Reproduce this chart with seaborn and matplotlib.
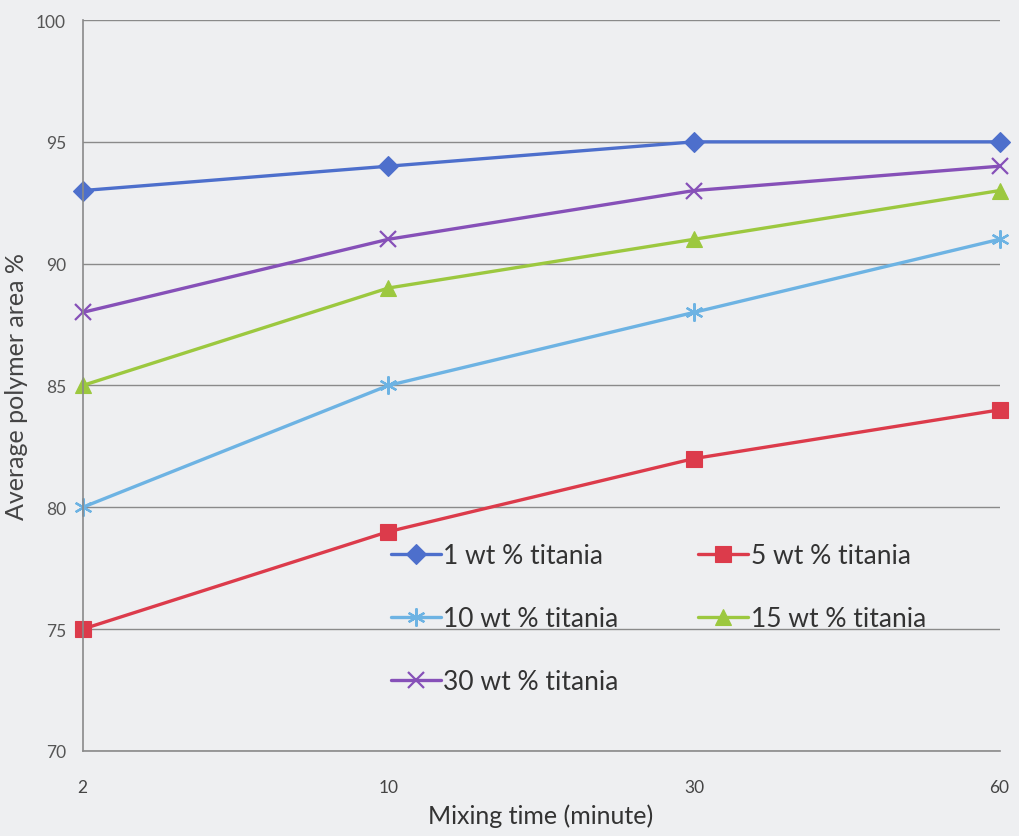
import pandas as pd
import seaborn as sns
import matplotlib
matplotlib.use('Agg')
import matplotlib.pyplot as plt

times = ['2', '10', '30', '60']
series_names = ['1 wt % titania', '5 wt % titania', '10 wt % titania',
                '15 wt % titania', '30 wt % titania']
wt1 = [93, 94, 95, 95]
wt5 = [75, 79, 82, 84]
wt10 = [80, 85, 88, 91]
wt15 = [85, 89, 91, 93]
wt30 = [88, 91, 93, 94]

colors = ['#4d6fcc', '#dc3b4b', '#6db3e3', '#9cc83f', '#8650b8']
markers = ['D', 's', (6, 2, 0), '^', 'x']
sizes = [10, 11, 13, 11, 11]

rows = []
for name, vals in zip(series_names, [wt1, wt5, wt10, wt15, wt30]):
    for t, v in zip(times, vals):
        rows.append({'time': t, 'value': v, 'series': name})
df = pd.DataFrame(rows)

sns.set_style('white')
plt.rcParams['font.family'] = ['Lato', 'DejaVu Sans']
bg = '#eeeff1'

fig = plt.figure(figsize=(10.2, 8.37), dpi=100, facecolor=bg)
ax = fig.add_axes([0.081, 0.1016, 0.899, 0.8733])
ax.set_facecolor(bg)

for name, c, m, s in zip(series_names, colors, markers, sizes):
    sub = df[df['series'] == name]
    sns.lineplot(data=sub, x='time', y='value', ax=ax, color=c, marker=m,
                 markersize=s, markeredgecolor=c,
                 markeredgewidth=1.6 if m in ('x', (6, 2, 0)) else 0.8,
                 linewidth=2.4, label=name, sort=False, clip_on=False)

ax.set_xlim(0, 3)
ax.set_ylim(70, 100)
ax.set_yticks([70, 75, 80, 85, 90, 95, 100])
ax.yaxis.grid(True, color='#8a8a8a', linewidth=1)
ax.set_axisbelow(True)
for side in ['top', 'right']:
    ax.spines[side].set_visible(False)
for side in ['left', 'bottom']:
    ax.spines[side].set_color('#8a8a8a')
    ax.spines[side].set_linewidth(1.2)
ax.tick_params(axis='y', length=6, color='#8a8a8a', labelsize=12.5, labelcolor='#555555', pad=6)
ax.tick_params(axis='x', length=8, direction='in', color='#8a8a8a', labelsize=12.5,
               labelcolor='#444444', pad=20)
ax.set_xlabel('Mixing time (minute)', fontsize=18, color='#333333', labelpad=6)
ax.set_ylabel('Average polymer area %', fontsize=18, color='#444444', labelpad=6)

handles, labels = ax.get_legend_handles_labels()
order = [0, 2, 4, 1, 3]
ax.legend([handles[i] for i in order], [labels[i] for i in order],
          loc='lower left', bbox_to_anchor=(0.31, 0.045), ncol=2, frameon=False,
          fontsize=19, handlelength=1.9, handletextpad=0.1, columnspacing=3.0,
          labelspacing=1.45, labelcolor='#333333')

fig.savefig('out.png', dpi=100, facecolor=bg)
